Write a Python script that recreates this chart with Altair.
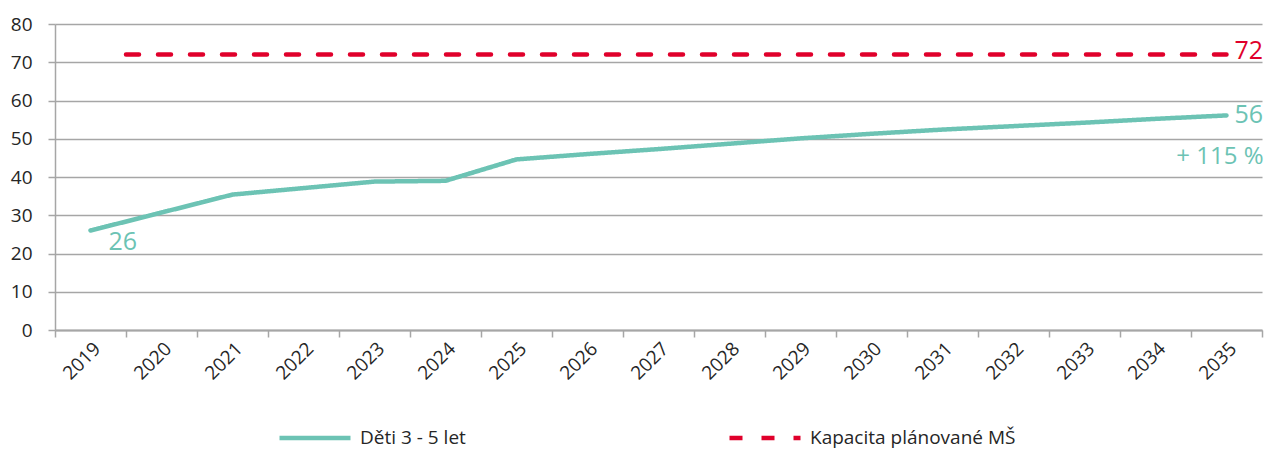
import altair as alt
import pandas as pd

years = list(range(2019, 2036))
children = [26.0, 30.7, 35.4, 37.1, 38.8, 39.0, 44.6, 46.0, 47.3, 48.7, 50.1, 51.3, 52.4, 53.3, 54.2, 55.2, 56.1]
cap_years = [2019.5, 2035]
cap_values = [72, 72]
S1 = "Děti 3 - 5 let"
S2 = "Kapacita plánované MŠ"
y_ticks = [0, 10, 20, 30, 40, 50, 60, 70, 80]

GREEN = "#6cc3b4"
RED = "#e0002b"
FONT = "Open Sans"
GRAY = "#a6a6a6"

df_line = pd.DataFrame({"year": years, "value": children, "series": S1})
df_cap = pd.DataFrame({"year": cap_years, "value": cap_values, "series": S2})
df = pd.concat([df_line, df_cap], ignore_index=True)

x_vals = []
for y in years:
    x_vals += [y - 0.5, y]
x_vals.append(years[-1] + 0.5)

xscale = alt.Scale(domain=[2018.5, 2035.5], nice=False, zero=False)
yscale = alt.Scale(domain=[0, 80], nice=False)

x_axis = alt.Axis(values=x_vals, grid=False,
                  labelExpr="datum.value % 1 == 0 ? format(datum.value, 'd') : ''",
                  labelOverlap=False, labelAngle=-45, labelFontSize=19,
                  labelFont=FONT, labelColor="#262626", labelPadding=2,
                  tickSize=7, tickColor=GRAY, tickWidth=1.5,
                  tickOpacity={"condition": {"test": "datum.value % 1 != 0", "value": 1}, "value": 0},
                  domainColor=GRAY, domainWidth=2)
y_axis = alt.Axis(values=y_ticks, grid=True, gridColor=GRAY, gridWidth=1.5,
                  tickSize=7, tickColor=GRAY, tickWidth=1.5,
                  domainColor=GRAY, domainWidth=1.5, labelOverlap=False,
                  labelFontSize=19, labelFont=FONT, labelColor="#262626",
                  labelPadding=16)

leg = dict(title=None, orient="none", legendX=222, legendY=376,
           direction="horizontal", symbolType="stroke",
           symbolSize=5041, symbolStrokeWidth=4.5,
           labelFontSize=19, labelFont=FONT, labelColor="#262626",
           labelOffset=7, columnPadding=254, labelLimit=400)

lines = alt.Chart(df).mark_line(strokeWidth=4.5, strokeCap="round").encode(
    x=alt.X("year:Q", scale=xscale, title=None, axis=x_axis),
    y=alt.Y("value:Q", scale=yscale, title=None, axis=y_axis),
    color=alt.Color("series:N", scale=alt.Scale(domain=[S1, S2], range=[GREEN, RED]),
                    legend=alt.Legend(**leg)),
    strokeDash=alt.StrokeDash("series:N", scale=alt.Scale(domain=[S1, S2], range=[[1, 0], [13, 19]]),
                              legend=alt.Legend(**leg)),
)

first = pd.DataFrame({"year": [years[0]], "value": [children[0]], "t": ["26"]})
last = pd.DataFrame({"year": [years[-1]], "value": [children[-1]], "t": ["56"]})
pct = pd.DataFrame({"year": [years[-1]], "value": [children[-1]], "t": ["+ 115 %"]})
cap = pd.DataFrame({"year": [cap_years[-1]], "value": [cap_values[-1]], "t": ["72"]})

def lab(d, color, align, dx, dy, size=25):
    return alt.Chart(d).mark_text(font=FONT, fontSize=size, color=color, align=align,
                                  baseline="middle", dx=dx, dy=dy).encode(
        x=alt.X("year:Q", scale=xscale, title=None, axis=x_axis),
        y=alt.Y("value:Q", scale=yscale, title=None, axis=y_axis),
        text="t:N")

chart = alt.layer(
    lines,
    lab(first, GREEN, "left", 18, 11),
    lab(last, GREEN, "left", 8, 0),
    lab(pct, GREEN, "right", 37, 42, 24),
    lab(cap, RED, "left", 8, -4),
).properties(
    width=1207, height=306,
    padding={"left": 47, "top": 16, "right": 3, "bottom": 120},
    autosize="none",
).configure_view(stroke=None)

chart.save("out.html", embed_options={"renderer": "svg", "actions": False})
